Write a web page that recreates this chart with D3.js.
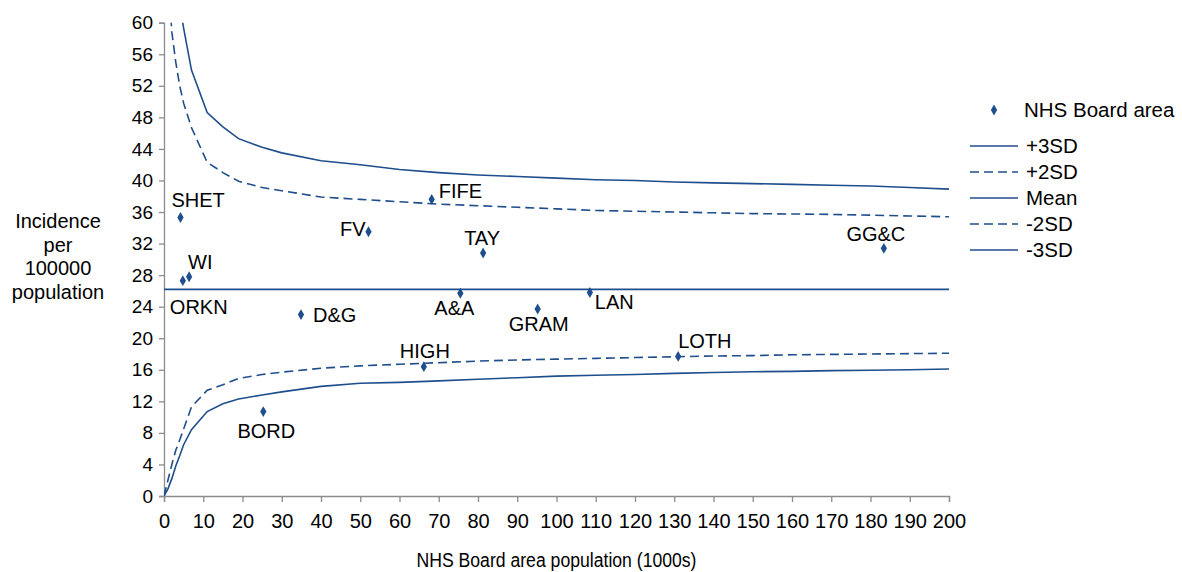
<!DOCTYPE html>
<html>
<head>
<meta charset="utf-8">
<script src="https://cdn.jsdelivr.net/npm/d3@7"></script>
<style>
  html, body { margin: 0; padding: 0; background: #fff; }
  svg { display: block; font-family: "Liberation Sans", Arial, sans-serif; }
</style>
</head>
<body>
<svg id="chart" width="1182" height="572"></svg>
<script>
// NHS Board areas: population (1000s) and incidence per 100000
const boards     = ["SHET", "ORKN", "WI", "BORD", "D&G", "FV", "FIFE", "HIGH", "A&A", "TAY", "GRAM", "LAN", "LOTH", "GG&C"];
const population = [4.2, 4.8, 6.4, 25.3, 34.9, 52.1, 68.2, 66.2, 75.5, 81.3, 95.2, 108.5, 131.0, 183.4];
const incidence  = [35.3, 27.3, 27.8, 10.7, 23.0, 33.5, 37.6, 16.4, 25.7, 30.8, 23.7, 25.8, 17.7, 31.4];

// Funnel limits evaluated on a population grid
const popGrid  = [0, 1, 2, 3, 4, 5, 7, 11, 15, 19, 25, 30, 40, 50, 60, 70, 80, 90, 100, 110, 120, 130, 140, 150, 160, 170, 180, 190, 200];
const plus3SD  = [null, 90, 75, 67, 62.5, 59.3, 54.0, 48.6, 46.8, 45.3, 44.2, 43.5, 42.5, 42.0, 41.4, 41.0, 40.7, 40.5, 40.3, 40.1, 40.0, 39.8, 39.7, 39.6, 39.5, 39.4, 39.3, 39.1, 38.9];
const plus2SD  = [null, 66, 58.8, 55.0, 52.0, 49.8, 46.7, 42.3, 41.0, 39.9, 39.1, 38.7, 37.9, 37.6, 37.3, 37.0, 36.8, 36.6, 36.4, 36.2, 36.1, 36.0, 35.9, 35.8, 35.75, 35.7, 35.6, 35.5, 35.4];
const meanRate = 26.2;
const minus2SD = [0, 2.0, 4.0, 5.8, 7.1, 8.5, 11.3, 13.4, 14.1, 14.9, 15.4, 15.7, 16.2, 16.5, 16.7, 16.9, 17.1, 17.25, 17.35, 17.45, 17.55, 17.65, 17.75, 17.8, 17.9, 17.95, 18.0, 18.05, 18.1];
const minus3SD = [0, 0.9, 2.2, 3.8, 5.1, 6.5, 8.4, 10.7, 11.7, 12.3, 12.8, 13.2, 13.9, 14.3, 14.4, 14.6, 14.8, 15.0, 15.2, 15.3, 15.4, 15.55, 15.65, 15.75, 15.8, 15.9, 15.95, 16.0, 16.1];

const xTicks = d3.range(0, 201, 10);
const yTicks = d3.range(0, 61, 4);

const legendItems = ["+3SD", "+2SD", "Mean", "-2SD", "-3SD"];

const BLUE = "#1f4e8c";
const AXIS = "#8c8c8c";

const svg = d3.select("#chart");
const plot = { left: 164, right: 949, top: 22.7, bottom: 496 };

const x = d3.scaleLinear().domain([0, 200]).range([plot.left, plot.right]);
const y = d3.scaleLinear().domain([0, 60]).range([plot.bottom, plot.top]);

svg.append("defs").append("clipPath").attr("id", "plotClip")
  .append("rect")
  .attr("x", plot.left).attr("y", plot.top)
  .attr("width", plot.right - plot.left).attr("height", plot.bottom - plot.top);

// Axes
const xAxis = svg.append("g")
  .attr("transform", `translate(0,${plot.bottom})`)
  .call(d3.axisBottom(x).tickValues(xTicks).tickSize(6).tickPadding(12).tickFormat(d3.format("d")));
const yAxis = svg.append("g")
  .attr("transform", `translate(${plot.left},0)`)
  .call(d3.axisLeft(y).tickValues(yTicks).tickSize(5).tickPadding(6).tickFormat(d3.format("d")));

[xAxis, yAxis].forEach(g => {
  g.select(".domain").attr("stroke", AXIS).attr("stroke-width", 1.3);
  g.selectAll(".tick line").attr("stroke", AXIS).attr("stroke-width", 1.3);
  g.selectAll(".tick text").attr("fill", "#000").style("font-size", "19px");
});
xAxis.selectAll(".tick text").style("font-size", "20px");

// Limit lines
const series = [
  { name: "+3SD", values: plus3SD, dash: null },
  { name: "+2SD", values: plus2SD, dash: "9,5" },
  { name: "Mean", values: popGrid.map(() => meanRate), dash: null },
  { name: "-2SD", values: minus2SD, dash: "9,5" },
  { name: "-3SD", values: minus3SD, dash: null }
];

const line = d3.line()
  .defined(d => d[1] != null)
  .x(d => x(d[0]))
  .y(d => y(d[1]));

const lines = svg.append("g").attr("clip-path", "url(#plotClip)");
series.forEach(s => {
  lines.append("path")
    .datum(popGrid.map((p, i) => [p, s.values[i]]))
    .attr("d", line)
    .attr("fill", "none")
    .attr("stroke", BLUE)
    .attr("stroke-width", 1.6)
    .attr("stroke-dasharray", s.dash);
});

// Board markers
const diamond = d3.symbol().type(d3.symbolDiamond).size(34);
const pts = boards.map((b, i) => ({ name: b, pop: population[i], rate: incidence[i] }));

svg.append("g").selectAll("path")
  .data(pts)
  .join("path")
  .attr("d", diamond)
  .attr("transform", d => `translate(${x(d.pop)},${y(d.rate)})`)
  .attr("fill", BLUE);

// Label placement for each board, relative to its marker
const labelPlacement = {
  "SHET": { dx: -9,  dy: -11, anchor: "start" },
  "ORKN": { dx: -13, dy: 33,  anchor: "start" },
  "WI":   { dx: -1,  dy: -8,  anchor: "start" },
  "BORD": { dx: 3,   dy: 26,  anchor: "middle" },
  "D&G":  { dx: 12,  dy: 7,   anchor: "start" },
  "FV":   { dx: -3,  dy: 4,   anchor: "end" },
  "FIFE": { dx: 7,   dy: -1,  anchor: "start" },
  "HIGH": { dx: 1,   dy: -9,  anchor: "middle" },
  "A&A":  { dx: -6,  dy: 22,  anchor: "middle" },
  "TAY":  { dx: -1,  dy: -8,  anchor: "middle" },
  "GRAM": { dx: 1,   dy: 22,  anchor: "middle" },
  "LAN":  { dx: 5,   dy: 17,  anchor: "start" },
  "LOTH": { dx: 0,   dy: -8,  anchor: "start" },
  "GG&C": { dx: -8,  dy: -7,  anchor: "middle" }
};

svg.append("g").selectAll("text")
  .data(pts)
  .join("text")
  .attr("x", d => x(d.pop) + labelPlacement[d.name].dx)
  .attr("y", d => y(d.rate) + labelPlacement[d.name].dy)
  .attr("text-anchor", d => labelPlacement[d.name].anchor)
  .style("font-size", "20px")
  .attr("fill", "#000")
  .text(d => d.name);

// Axis titles
svg.append("text")
  .attr("x", (plot.left + plot.right) / 2)
  .attr("y", 567)
  .attr("text-anchor", "middle")
  .attr("textLength", 280)
  .attr("lengthAdjust", "spacingAndGlyphs")
  .style("font-size", "19.5px")
  .text("NHS Board area population (1000s)");

const yTitle = ["Incidence", "per", "100000", "population"];
svg.append("text")
  .attr("text-anchor", "middle")
  .style("font-size", "20px")
  .selectAll("tspan")
  .data(yTitle)
  .join("tspan")
  .attr("x", 58)
  .attr("y", (d, i) => 228 + i * 23.5)
  .text(d => d);

// Legend
const legend = svg.append("g");
legend.append("path")
  .attr("d", diamond)
  .attr("transform", "translate(994,110)")
  .attr("fill", BLUE);
legend.append("text")
  .attr("x", 1024).attr("y", 117)
  .style("font-size", "20.5px")
  .text("NHS Board area");

legendItems.forEach((name, i) => {
  const s = series.find(d => d.name === name);
  const ly = 146 + i * 26;
  legend.append("line")
    .attr("x1", 970).attr("x2", 1018)
    .attr("y1", ly).attr("y2", ly)
    .attr("stroke", BLUE)
    .attr("stroke-width", 1.6)
    .attr("stroke-dasharray", s.dash);
  legend.append("text")
    .attr("x", 1026).attr("y", ly + 7)
    .style("font-size", "20.5px")
    .text(name);
});
</script>
</body>
</html>
